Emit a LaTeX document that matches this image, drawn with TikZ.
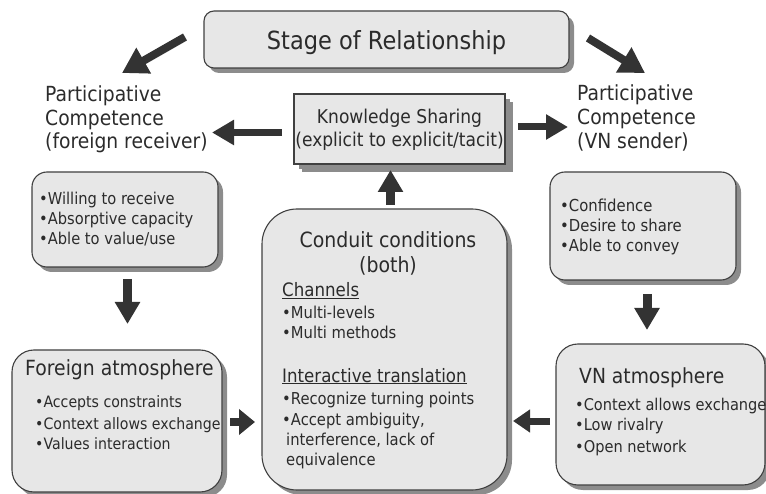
\documentclass[tikz,border=0pt]{standalone}
\usepackage{fontspec}
\setmainfont{DejaVu Sans}[FakeStretch=0.9]
\usetikzlibrary{arrows.meta,shadows}
\definecolor{boxfill}{HTML}{E7E7E7}
\definecolor{boxline}{HTML}{404040}
\definecolor{shade}{HTML}{8C8C8C}
\definecolor{ink}{HTML}{2B2B2B}
\definecolor{arrowink}{HTML}{333333}
\newcommand{\fs}[1]{\fontsize{#1}{#1}\selectfont}
\begin{document}
\begin{tikzpicture}[x=1pt,y=-1pt,
  panel/.style={draw=boxline, line width=1.1pt, fill=boxfill, inner sep=0pt,
    drop shadow={shadow xshift=5pt, shadow yshift=-5pt, fill=shade, opacity=1}},
  txt/.style={inner sep=0pt, anchor=base west, text=ink},
  ctxt/.style={inner sep=0pt, anchor=base, text=ink},
  fat/.style={draw=arrowink, line width=8pt, -{Triangle[length=22pt,width=24pt]}},
  bigarrow/.style={draw=arrowink, line width=8pt, -{Triangle[length=25pt,width=28pt]}},
]
\useasboundingbox (0,0) rectangle (766,494);

% ---- boxes ----
\node[panel, rounded corners=10pt, minimum width=365pt, minimum height=57pt] (stage) at (386.5,39.5) {};
\node[panel, drop shadow={shadow xshift=8pt, shadow yshift=-8pt, fill=shade, opacity=1},
      minimum width=211pt, minimum height=70pt] (share) at (399.5,129) {};
\node[panel, rounded corners=15pt, minimum width=186pt, minimum height=95pt] (recv) at (125,219.5) {};
\node[panel, rounded corners=15pt, minimum width=186pt, minimum height=108pt] (send) at (643,226) {};
\node[panel, rounded corners=22pt, minimum width=210pt, minimum height=142pt] (foreign) at (117,421) {};
\node[panel, rounded corners=35pt, minimum width=245pt, minimum height=281pt] (conduit) at (384.5,349.5) {};
\node[panel, rounded corners=22pt, minimum width=209pt, minimum height=141pt] (vn) at (660.5,414.5) {};

% ---- titles ----
\node[ctxt, font=\fs{25}] (stagetxt) at (386.5,50) {Stage of Relationship};
\node[ctxt, font=\fs{19}] (share1) at (399.5,124) {Knowledge Sharing};
\node[ctxt, font=\fs{19}] (share2) at (399.5,147) {(explicit to explicit/tacit)};

% ---- participative competence labels ----
\node[txt, font=\fs{20.8}] (pl1) at (45,102) {Participative};
\node[txt, font=\fs{20.8}] (pl2) at (45,126) {Competence};
\node[txt, font=\fs{20.8}] (pl3) at (45,149) {(foreign receiver)};
\node[txt, font=\fs{20.8}] (pr1) at (577,101) {Participative};
\node[txt, font=\fs{20.8}] (pr2) at (577,125) {Competence};
\node[txt, font=\fs{20.8}] (pr3) at (577,149) {(VN sender)};

% ---- receiver box ----
\node[txt, font=\fs{16.3}] (r1) at (39,205) {•Willing to receive};
\node[txt, font=\fs{16.3}] (r2) at (39,225) {•Absorptive capacity};
\node[txt, font=\fs{16.3}] (r3) at (39,245) {•Able to value/use};

% ---- sender box ----
\node[txt, font=\fs{16.5}] (s1) at (560,212) {•Confidence};
\node[txt, font=\fs{16.5}] (s2) at (560,232) {•Desire to share};
\node[txt, font=\fs{16.5}] (s3) at (560,252) {•Able to convey};

% ---- foreign atmosphere ----
\node[txt, font=\fs{20.9}] (f0) at (25,375) {Foreign atmosphere};
\node[txt, font=\fs{15.7}] (f1) at (35,407) {•Accepts constraints};
\node[txt, font=\fs{15.7}] (f2) at (35,429) {•Context allows exchange};
\node[txt, font=\fs{15.7}] (f3) at (35,449) {•Values interaction};

% ---- VN atmosphere ----
\node[txt, font=\fs{20.8}] (v0) at (579,383) {VN atmosphere};
\node[txt, font=\fs{16.2}] (v1) at (575,410) {•Context allows exchange};
\node[txt, font=\fs{16.2}] (v2) at (575,430) {•Low rivalry};
\node[txt, font=\fs{16.2}] (v3) at (575,452) {•Open network};

% ---- conduit conditions ----
\node[ctxt, font=\fs{21}] (c0) at (388,248) {Conduit conditions};
\node[ctxt, font=\fs{21}] (c1) at (388,273) {(both)};
\node[txt, font=\fs{18.5}] (c2) at (282,297) {\underline{Channels}};
\node[txt, font=\fs{16.4}] (c3) at (282,319) {•Multi-levels};
\node[txt, font=\fs{16.4}] (c4) at (282,339) {•Multi methods};
\node[txt, font=\fs{18.5}] (c5) at (282,382) {\underline{Interactive translation}};
\node[txt, font=\fs{16.4}] (c6) at (282,404) {•Recognize turning points};
\node[txt, font=\fs{16.4}] (c7) at (282,425) {•Accept ambiguity,};
\node[txt, font=\fs{16.4}] (c8) at (286,445) {interference, lack of};
\node[txt, font=\fs{16.4}] (c9) at (286,465) {equivalence};

% ---- arrow end points ----
\coordinate (tlA) at (185,37);   \coordinate (tlB) at (122,73);
\coordinate (trA) at (588,38);   \coordinate (trB) at (645,73);
\coordinate (klA) at (282,132.5); \coordinate (klB) at (212,132.5);
\coordinate (krA) at (518,127);  \coordinate (krB) at (568,127);
\coordinate (upA) at (390.5,205); \coordinate (upB) at (390.5,170);
\coordinate (ldA) at (127.5,279); \coordinate (ldB) at (127.5,324);
\coordinate (rdA) at (647,294);  \coordinate (rdB) at (647,330);
\coordinate (frA) at (230,422);  \coordinate (frB) at (255,422);
\coordinate (vlA) at (550,421);  \coordinate (vlB) at (513,421);

% ---- arrows ----
\draw[bigarrow] (tlA) -- (tlB);
\draw[bigarrow] (trA) -- (trB);
\draw[fat, line width=7pt] (klA) -- (klB);
\draw[fat, line width=7pt] (krA) -- (krB);
\draw[fat, line width=9pt] (upA) -- (upB);
\draw[fat, line width=9pt] (ldA) -- (ldB);
\draw[fat, line width=9pt] (rdA) -- (rdB);
\draw[draw=arrowink, line width=8pt, -{Triangle[length=16pt,width=25pt]}] (frA) -- (frB);
\draw[draw=arrowink, line width=7pt, -{Triangle[length=17pt,width=22pt]}] (vlA) -- (vlB);
\end{tikzpicture}
\end{document}
